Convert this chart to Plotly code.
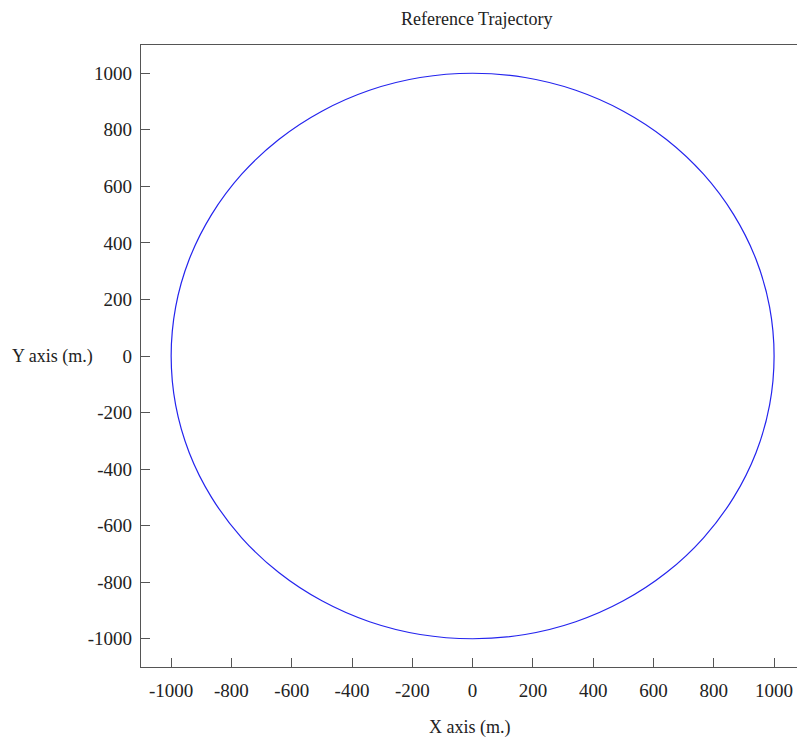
import plotly.graph_objects as go

# Reference trajectory points (m.)
traj_x = [1000, 985, 940, 866, 766, 643, 500, 342, 174, 0, -174, -342, -500, -643, -766, -866, -940, -985,
          -1000, -985, -940, -866, -766, -643, -500, -342, -174, 0, 174, 342, 500, 643, 766, 866, 940, 985, 1000]
traj_y = [0, 174, 342, 500, 643, 766, 866, 940, 985, 1000, 985, 940, 866, 766, 643, 500, 342, 174,
          0, -174, -342, -500, -643, -766, -866, -940, -985, -1000, -985, -940, -866, -766, -643, -500, -342, -174, 0]

tick_vals = [-1000, -800, -600, -400, -200, 0, 200, 400, 600, 800, 1000]
tick_text = [str(v) for v in tick_vals]

FONT = "Liberation Serif, Times New Roman, serif"

fig = go.Figure()
fig.add_trace(go.Scatter(x=traj_x, y=traj_y, mode="lines",
                         line=dict(color="#2424ee", width=1.2, shape="spline"),
                         showlegend=False, hoverinfo="skip"))

axis_common = dict(
    showgrid=False, zeroline=False, showline=True, linecolor="#555555", linewidth=1.2,
    ticks="inside", ticklen=9, tickwidth=1.2, tickcolor="#555555",
    tickfont=dict(family=FONT, size=19, color="#222222"),
    tickvals=tick_vals, ticktext=tick_text,
)

fig.update_layout(
    width=797, height=738,
    margin=dict(l=141, r=0, t=45, b=71),
    paper_bgcolor="white", plot_bgcolor="white",
    xaxis=dict(range=[-1100, 1076], mirror=True, ticklabelstandoff=6, **axis_common),
    yaxis=dict(range=[-1100, 1100], mirror=False, ticklabelstandoff=4, **axis_common),
    annotations=[
        dict(text="Reference Trajectory", xref="paper", yref="paper", x=0.5107, y=1.0418,
             xanchor="center", yanchor="middle", showarrow=False,
             font=dict(family=FONT, size=18, color="#222222")),
        dict(text="X axis (m.)", xref="paper", yref="paper", x=0.5, y=-0.0965,
             xanchor="center", yanchor="middle", showarrow=False,
             font=dict(family=FONT, size=18, color="#222222")),
        dict(text="Y axis (m.)", xref="paper", yref="y", x=-0.0701, y=0,
             xanchor="right", yanchor="middle", showarrow=False,
             font=dict(family=FONT, size=18, color="#222222")),
    ],
)

fig.write_html("out.html")
